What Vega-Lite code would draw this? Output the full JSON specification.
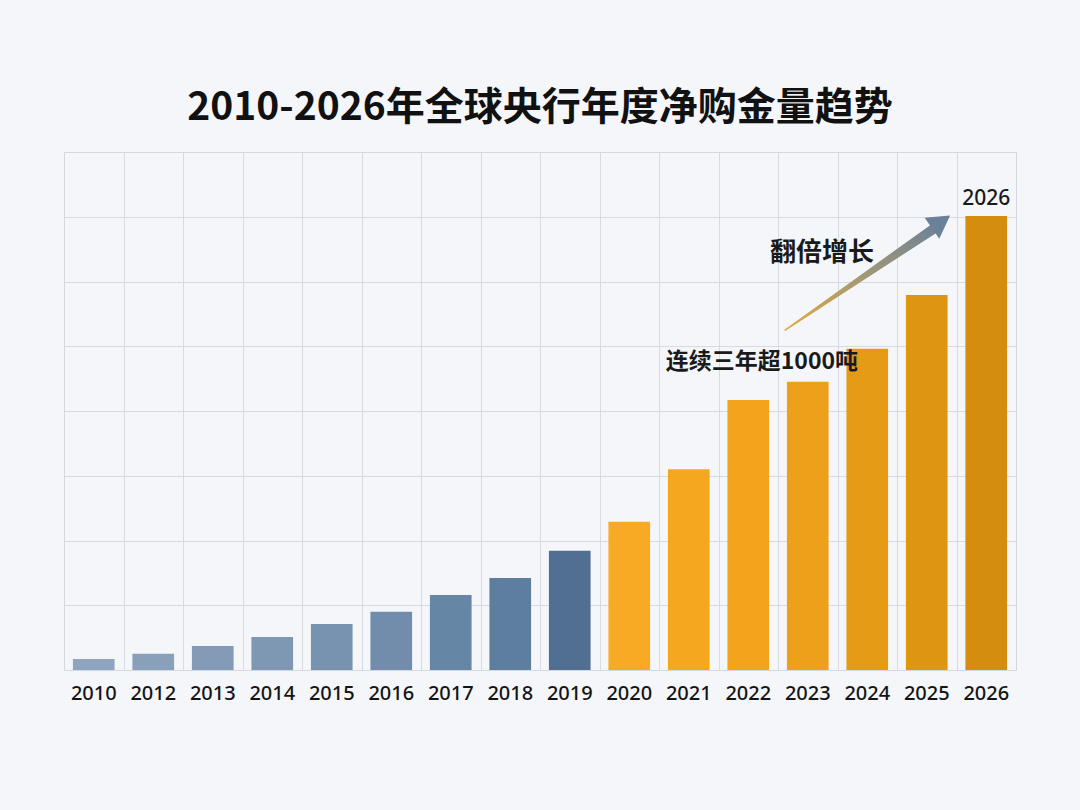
{
  "$schema": "https://vega.github.io/schema/vega-lite/v6.json",
  "autosize": {"type": "none"},
  "width": 952,
  "height": 518,
  "padding": {"left": 64, "top": 152, "right": 64, "bottom": 140},
  "background": "#f4f6f9",
  "config": {
    "view": {"stroke": "#d3d8df", "strokeWidth": 1},
    "font": "Noto Sans CJK SC"
  },
  "title": {
    "text": "2010-2026年全球央行年度净购金量趋势",
    "fontSize": 39,
    "fontWeight": "bold",
    "font": "Noto Sans CJK SC",
    "color": "#111111",
    "anchor": "middle",
    "offset": 24
  },
  "datasets": {
    "bars": [
      {"year": "2010", "v": 17},
      {"year": "2012", "v": 25},
      {"year": "2013", "v": 37},
      {"year": "2014", "v": 51},
      {"year": "2015", "v": 71},
      {"year": "2016", "v": 90},
      {"year": "2017", "v": 116},
      {"year": "2018", "v": 142},
      {"year": "2019", "v": 184},
      {"year": "2020", "v": 229},
      {"year": "2021", "v": 310},
      {"year": "2022", "v": 417},
      {"year": "2023", "v": 445},
      {"year": "2024", "v": 496},
      {"year": "2025", "v": 579},
      {"year": "2026", "v": 701}
    ],
    "arrow": [
      {"px": 12.12, "v": 525, "w": 0},
      {"px": 14.64, "v": 683, "w": 1}
    ],
    "head": [
      {"px": 14.74, "v": 692}
    ],
    "notes": [
      {"px": 12.74, "v": 644, "label": "翻倍增长", "kind": "a"},
      {"px": 11.73, "v": 476, "label": "连续三年超1000吨", "kind": "b"}
    ],
    "toplabel": [
      {"px": 15.5, "v": 728, "label": "2026"}
    ]
  },
  "resolve": {"scale": {"x": "independent"}, "axis": {"x": "independent"}},
  "layer": [
    {
      "data": {"name": "bars"},
      "mark": {"type": "bar"},
      "encoding": {
        "x": {
          "field": "year",
          "type": "nominal",
          "sort": null,
          "scale": {"paddingInner": 0.3, "paddingOuter": 0.15},
          "axis": {
            "title": null,
            "orient": "bottom",
            "labelAngle": 0,
            "labelFont": "Noto Sans",
            "labelFontSize": 20,
            "labelFontWeight": 500,
            "labelColor": "#141414",
            "labelPadding": 13,
            "ticks": false,
            "domain": false,
            "grid": false
          }
        },
        "y": {
          "field": "v",
          "type": "quantitative",
          "scale": {"domain": [0, 800], "nice": false, "zero": true},
          "axis": {
            "title": null,
            "labels": false,
            "ticks": false,
            "domain": false,
            "grid": true,
            "gridColor": "#d6dbe2",
            "gridWidth": 1,
            "values": [100, 200, 300, 400, 500, 600, 700]
          }
        },
        "color": {
          "field": "year",
          "type": "nominal",
          "legend": null,
          "scale": {
            "domain": ["2010","2012","2013","2014","2015","2016","2017","2018","2019","2020","2021","2022","2023","2024","2025","2026"],
            "range": ["#8ea5bf","#89a0ba","#839bb6","#7e97b3","#7893af","#718dab","#6686a6","#5e7ea0","#506f92","#f8aa25","#f6a720","#f3a41c","#eda01a","#e69b16","#de9512","#d48d0e"]
          }
        }
      }
    },
    {
      "data": {"name": "arrow"},
      "mark": {
        "type": "trail",
        "color": {
          "gradient": "linear",
          "x1": 0, "y1": 1, "x2": 1, "y2": 0,
          "stops": [
            {"offset": 0, "color": "#e2aa3c"},
            {"offset": 0.5, "color": "#a39a74"},
            {"offset": 1, "color": "#6b8099"}
          ]
        }
      },
      "encoding": {
        "x": {
          "field": "px",
          "type": "quantitative",
          "scale": {"domain": [0, 16], "nice": false, "zero": false},
          "axis": {
            "orient": "top",
            "title": null,
            "labels": false,
            "ticks": false,
            "domain": false,
            "grid": true,
            "gridColor": "#d6dbe2",
            "gridWidth": 1,
            "values": [1,2,3,4,5,6,7,8,9,10,11,12,13,14,15]
          }
        },
        "y": {"field": "v", "type": "quantitative", "scale": {"domain": [0, 800], "nice": false}},
        "size": {"field": "w", "type": "quantitative", "legend": null, "scale": {"domain": [0, 1], "range": [1.5, 10]}}
      }
    },
    {
      "data": {"name": "head"},
      "mark": {"type": "point", "shape": "triangle-up", "filled": true, "color": "#6b8099", "opacity": 1, "angle": 55, "size": 650},
      "encoding": {
        "x": {"field": "px", "type": "quantitative", "scale": {"domain": [0, 16], "nice": false, "zero": false}, "axis": null},
        "y": {"field": "v", "type": "quantitative", "scale": {"domain": [0, 800], "nice": false}}
      }
    },
    {
      "data": {"name": "notes"},
      "transform": [{"filter": "datum.kind == 'a'"}],
      "mark": {"type": "text", "font": "Noto Sans CJK SC", "fontWeight": "bold", "fontSize": 26, "color": "#1a1a1a", "align": "center", "baseline": "middle"},
      "encoding": {
        "x": {"field": "px", "type": "quantitative", "scale": {"domain": [0, 16], "nice": false, "zero": false}, "axis": null},
        "y": {"field": "v", "type": "quantitative", "scale": {"domain": [0, 800], "nice": false}},
        "text": {"field": "label"}
      }
    },
    {
      "data": {"name": "notes"},
      "transform": [{"filter": "datum.kind == 'b'"}],
      "mark": {"type": "text", "font": "Noto Sans CJK SC", "fontWeight": "bold", "fontSize": 23, "color": "#1a1a1a", "align": "center", "baseline": "middle"},
      "encoding": {
        "x": {"field": "px", "type": "quantitative", "scale": {"domain": [0, 16], "nice": false, "zero": false}, "axis": null},
        "y": {"field": "v", "type": "quantitative", "scale": {"domain": [0, 800], "nice": false}},
        "text": {"field": "label"}
      }
    },
    {
      "data": {"name": "toplabel"},
      "mark": {"type": "text", "font": "Noto Sans", "fontSize": 21, "fontWeight": 500, "color": "#1a1a1a", "align": "center", "baseline": "middle"},
      "encoding": {
        "x": {"field": "px", "type": "quantitative", "scale": {"domain": [0, 16], "nice": false, "zero": false}, "axis": null},
        "y": {"field": "v", "type": "quantitative", "scale": {"domain": [0, 800], "nice": false}},
        "text": {"field": "label"}
      }
    }
  ]
}
